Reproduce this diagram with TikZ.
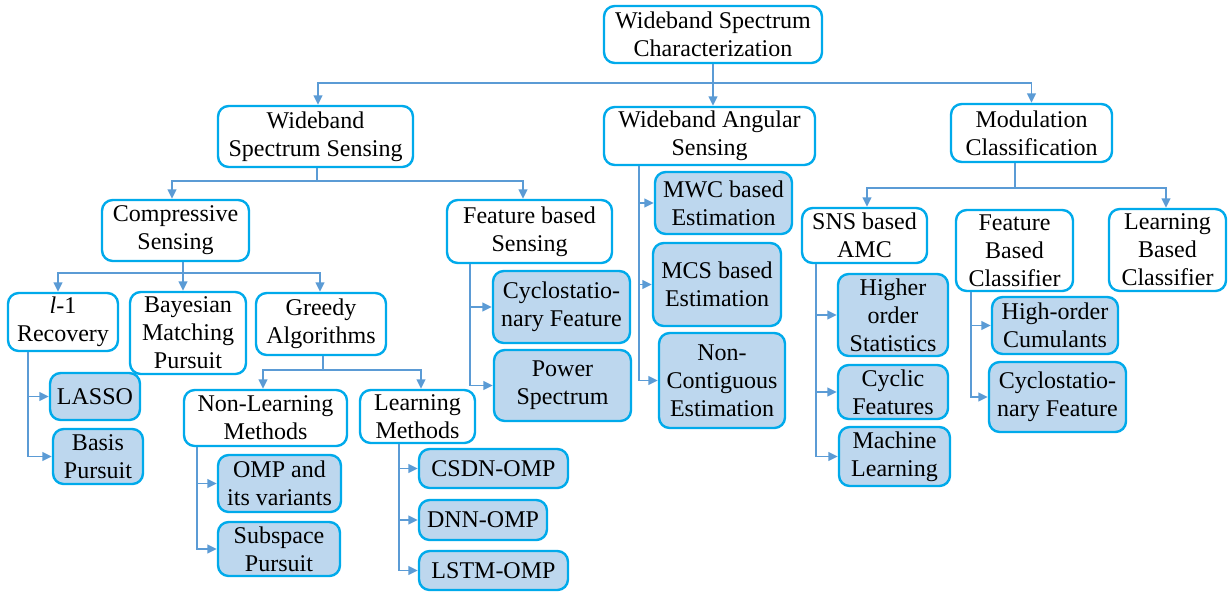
\documentclass[tikz,border=0pt]{standalone}
\usepackage{fontspec}
\setmainfont{Liberation Serif}
\usetikzlibrary{arrows.meta,calc}
\definecolor{boxline}{RGB}{0,170,235}
\definecolor{boxfill}{RGB}{189,215,238}
\definecolor{linkc}{RGB}{91,155,213}
\tikzset{
  cat/.style={draw=boxline, line width=1.8pt, rounded corners=8pt, fill=white,
    align=center, inner sep=0pt, font=\fontsize{18}{21}\selectfont},
  leaf/.style={cat, fill=boxfill},
  sz/.style 2 args={minimum width=#1*0.75pt, minimum height=#2*0.75pt},
  link/.style={draw=linkc, line width=1.2pt},
  arr/.style={link, -{Triangle[length=7pt,width=6.5pt]}},
}
\begin{document}
\begin{tikzpicture}[x=0.75pt,y=-0.75pt]
\useasboundingbox (0,0) rectangle (1231,594);

% ---- level 0 / 1 ----
\node[cat, sz={218}{57}] (top) at (713,34.5) {Wideband Spectrum\\Characterization};
\node[cat, sz={195}{61}] (wss) at (315.5,136.5) {Wideband\\Spectrum Sensing};
\node[cat, sz={211}{58}] (was) at (709.5,136) {Wideband Angular\\Sensing};
\node[cat, sz={161}{58}] (mc) at (1031.5,133) {Modulation\\Classification};

% ---- spectrum sensing branch ----
\node[cat, sz={147}{61}] (cs) at (175.5,230.5) {Compressive\\Sensing};
\node[cat, sz={165}{63}] (fbs) at (529.5,231.5) {Feature based\\Sensing};
\node[cat, sz={110}{58}] (l1) at (63,322) {\textit{l}-1\\Recovery};
\node[cat, sz={116}{82}] (bmp) at (188,333) {Bayesian\\Matching\\Pursuit};
\node[cat, sz={130}{62}] (greedy) at (321,324) {Greedy\\Algorithms};
\node[leaf, sz={90}{47}] (lasso) at (95,396.5) {LASSO};
\node[leaf, sz={90}{55}] (bp) at (98,456.5) {Basis\\Pursuit};
\node[cat, sz={163}{56}] (nlm) at (265.5,418) {Non-Learning\\Methods};
\node[cat, sz={115}{53}] (lm) at (417.5,416.5) {Learning\\Methods};
\node[leaf, sz={123}{57}] (omp) at (279.5,483.5) {OMP and\\its variants};
\node[leaf, sz={122}{54}] (sp) at (279,549) {Subspace\\Pursuit};
\node[leaf, sz={149}{39}] (csdn) at (493.5,468.5) {CSDN-OMP};
\node[leaf, sz={128}{40}] (dnn) at (483,520) {DNN-OMP};
\node[leaf, sz={149}{39}] (lstm) at (493.5,570.5) {LSTM-OMP};
\node[leaf, sz={137}{72}] (cyca) at (561.5,307) {Cyclostatio-\\nary Feature};
\node[leaf, sz={137}{71}] (ps) at (562.5,385.5) {Power\\Spectrum};

% ---- angular sensing branch ----
\node[leaf, sz={137}{62}] (mwc) at (723.5,203) {MWC based\\Estimation};
\node[leaf, sz={128}{83}] (mcs) at (717,284.5) {MCS based\\Estimation};
\node[leaf, sz={126}{95}] (nce) at (722,380.5) {Non-\\Contiguous\\Estimation};

% ---- modulation classification branch ----
\node[cat, sz={125}{55}] (sns) at (864.5,235.5) {SNS based\\AMC};
\node[cat, sz={117}{81}] (fbc) at (1014.5,250.5) {Feature\\Based\\Classifier};
\node[cat, sz={117}{82}] (lbc) at (1167.5,250) {Learning\\Based\\Classifier};
\node[leaf, sz={110}{82}] (hos) at (893,315) {Higher\\order\\Statistics};
\node[leaf, sz={110}{54}] (cf) at (893,392) {Cyclic\\Features};
\node[leaf, sz={111}{59}] (ml) at (894.5,456.5) {Machine\\Learning};
\node[leaf, sz={126}{57}] (hoc) at (1055,325.5) {High-order\\Cumulants};
\node[leaf, sz={137}{70}] (cycb) at (1057.5,397) {Cyclostatio-\\nary Feature};

% ---- top-level bus ----
\draw[link] (top.south) -- ++(0,18.5) coordinate (b0);
\draw[arr] (b0) -- (b0 |- was.north);
\draw[arr] (b0) -| ($(wss.north)+(2.5,0)$);
\draw[arr] (b0) -| (mc.north);

% ---- spectrum sensing bus ----
\draw[link] ($(wss.south)+(1.5,0)$) -- ++(0,13) coordinate (bw);
\draw[arr] (bw) -| ($(cs.north)+(-3.5,0)$);
\draw[arr] (bw) -| ($(fbs.north)+(-6.5,0)$);

% ---- compressive sensing bus ----
\draw[link] ($(cs.south)+(7.5,0)$) -- ++(0,11) coordinate (bc);
\draw[arr] (bc) -| ($(l1.north)+(-5,0)$);
\draw[arr] (bc) -| ($(bmp.north)+(-5,0)$);
\draw[arr] (bc) -| ($(greedy.north)+(-1,0)$);

% ---- greedy algorithms bus ----
\draw[link] ($(greedy.south)+(2,0)$) -- ++(0,14) coordinate (bg);
\draw[arr] (bg) -| ($(nlm.north)+(-2.5,0)$);
\draw[arr] (bg) -| ($(lm.north)+(3.5,0)$);

% ---- modulation classification bus ----
\draw[link] ($(mc.south)+(-16.5,0)$) -- ++(0,25) coordinate (bm);
\draw[arr] (bm) -| ($(sns.north)+(2.5,0)$);
\draw[arr] (bm) -| ($(lbc.north)+(-1.5,0)$);

% ---- side branches ----
\draw[arr] ($(l1.south west)+(21,0)$) |- (lasso.west);
\draw[arr] ($(l1.south west)+(21,0)$) |- (bp.west);
\draw[arr] ($(nlm.south west)+(14,0)$) |- (omp.west);
\draw[arr] ($(nlm.south west)+(14,0)$) |- (sp.west);
\draw[arr] ($(lm.south west)+(40,0)$) |- (csdn.west);
\draw[arr] ($(lm.south west)+(40,0)$) |- (dnn.west);
\draw[arr] ($(lm.south west)+(40,0)$) |- (lstm.west);
\draw[arr] ($(fbs.south west)+(24,0)$) |- (cyca.west);
\draw[arr] ($(fbs.south west)+(24,0)$) |- (ps.west);
\draw[arr] ($(was.south west)+(36,0)$) |- (mwc.west);
\draw[arr] ($(was.south west)+(36,0)$) |- (mcs.west);
\draw[arr] ($(was.south west)+(36,0)$) |- (nce.west);
\draw[arr] ($(sns.south west)+(15,0)$) |- (hos.west);
\draw[arr] ($(sns.south west)+(15,0)$) |- (cf.west);
\draw[arr] ($(sns.south west)+(15,0)$) |- (ml.west);
\draw[arr] ($(fbc.south west)+(16,0)$) |- (hoc.west);
\draw[arr] ($(fbc.south west)+(16,0)$) |- (cycb.west);
\end{tikzpicture}
\end{document}
